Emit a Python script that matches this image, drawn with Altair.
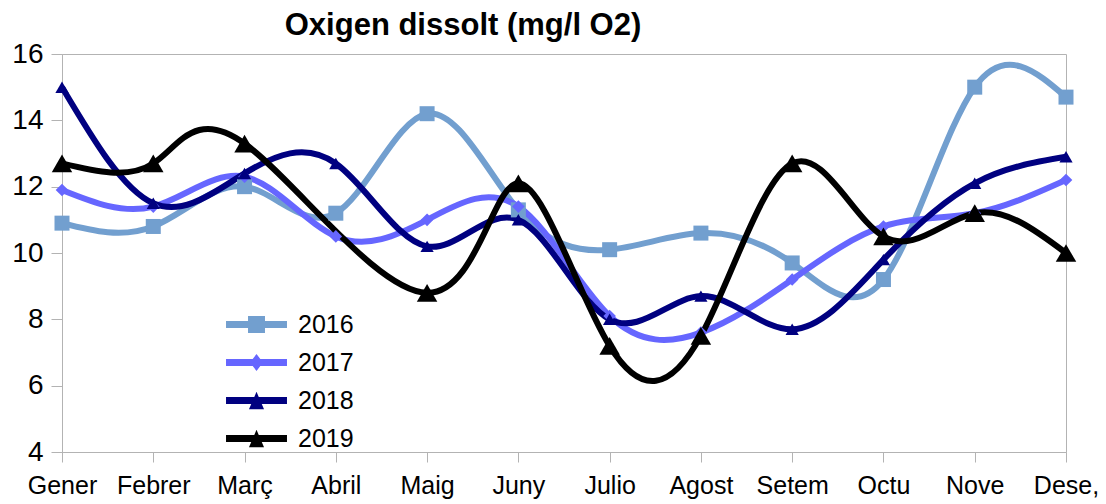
import altair as alt
import pandas as pd

months = ["Gener", "Febrer", "Març", "Abril", "Maig", "Juny", "Julio",
          "Agost", "Setem", "Octu", "Nove", "Dese,"]
years = ["2016", "2017", "2018", "2019"]
v2016 = [10.9, 10.8, 12.0, 11.2, 14.2, 11.3, 10.1, 10.6, 9.7, 9.2, 15.0, 14.7]
v2017 = [11.9, 11.4, 12.3, 10.5, 11.0, 11.4, 8.1, 7.6, 9.2, 10.8, 11.2, 12.2]
v2018 = [15.0, 11.5, 12.4, 12.7, 10.2, 11.0, 8.0, 8.7, 7.7, 9.8, 12.1, 12.9]
v2019 = [12.7, 12.7, 13.3, None, 8.8, 12.1, 7.2, 7.5, 12.7, 10.5, 11.2, 10.0]
y_ticks = [4, 6, 8, 10, 12, 14, 16]

colors = ["#729fcf", "#6666ff", "#000080", "#000000"]
point_shapes = ["square", "diamond", "triangle-up", "triangle-up"]
point_sizes = [225, 160, 175, 420]

# legend symbols: a short line with the marker in its middle (unit coords)
bar = "M-3.81,-0.44L3.81,-0.44L3.81,0.44L-3.81,0.44Z "
legend_shapes = [
    bar + "M-1.06,-1.06L1.06,-1.06L1.06,1.06L-1.06,1.06Z",
    bar + "M0,-1.06L0.81,0L0,1.06L-0.81,0Z",
    bar + "M0,-1.08L0.94,1.1L-0.94,1.1Z",
    bar + "M0,-1.08L0.94,1.1L-0.94,1.1Z",
]

rows = []
for yr, vals in zip(years, [v2016, v2017, v2018, v2019]):
    for i, (m, v) in enumerate(zip(months, vals)):
        if v is not None:
            rows.append({"month": m, "idx": i, "year": yr, "value": v})
df = pd.DataFrame(rows)

FONT = "Liberation Sans"

x_enc = alt.X("month:N", sort=months, scale=alt.Scale(padding=0),
              axis=alt.Axis(title=None, labelAngle=0, labelFontSize=25,
                            tickSize=10, labelPadding=11))
y_enc = alt.Y("value:Q", scale=alt.Scale(domain=[4, 16], nice=False, zero=False),
              axis=alt.Axis(title=None, values=y_ticks, labelFontSize=28,
                            tickSize=11, labelPadding=8))

color_plain = alt.Color("year:N", scale=alt.Scale(domain=years, range=colors), legend=None)

lines = alt.Chart(df).mark_line(interpolate="natural", strokeWidth=6, clip=True).encode(
    x=x_enc, y=y_enc, color=color_plain, order="idx:Q"
)

point_layers = []
for yr, col, shp, sz in zip(years, colors, point_shapes, point_sizes):
    point_layers.append(
        alt.Chart(df).transform_filter(alt.datum.year == yr).mark_point(
            filled=True, opacity=1, strokeWidth=0, color=col, shape=shp, size=sz
        ).encode(x=x_enc, y=y_enc)
    )

leg = alt.Legend(title=None, orient="none", legendX=182, legendY=258,
                 labelFontSize=25, labelFont=FONT, labelColor="black",
                 symbolSize=256, symbolStrokeWidth=0, labelOffset=29,
                 rowPadding=12, symbolOpacity=1)

legend_layer = alt.Chart(df).transform_filter("false").mark_point(
    filled=True, opacity=1, size=256
).encode(
    x=x_enc, y=y_enc,
    color=alt.Color("year:N", scale=alt.Scale(domain=years, range=colors), legend=leg),
    shape=alt.Shape("year:N", scale=alt.Scale(domain=years, range=legend_shapes), legend=leg),
)

chart = alt.layer(lines, *point_layers, legend_layer).resolve_scale(
    color="independent", shape="independent"
).properties(
    width=1004, height=398,
    padding={"left": 54, "top": 46, "right": 32, "bottom": 48},
    autosize=alt.AutoSizeParams(type="none"),
    title=alt.TitleParams("Oxigen dissolt (mg/l O2)", font=FONT, fontSize=31,
                          fontWeight="bold", color="black", anchor="middle",
                          frame="group", dx=-101, dy=29, offset=3, baseline="alphabetic"),
).configure_view(stroke="#b3b3b3", strokeWidth=1).configure_axis(
    domainColor="#b3b3b3", tickColor="#b3b3b3", grid=False,
    labelFont=FONT, labelColor="black"
)

chart.save("out.html", embed_options={"renderer": "svg", "actions": False})
